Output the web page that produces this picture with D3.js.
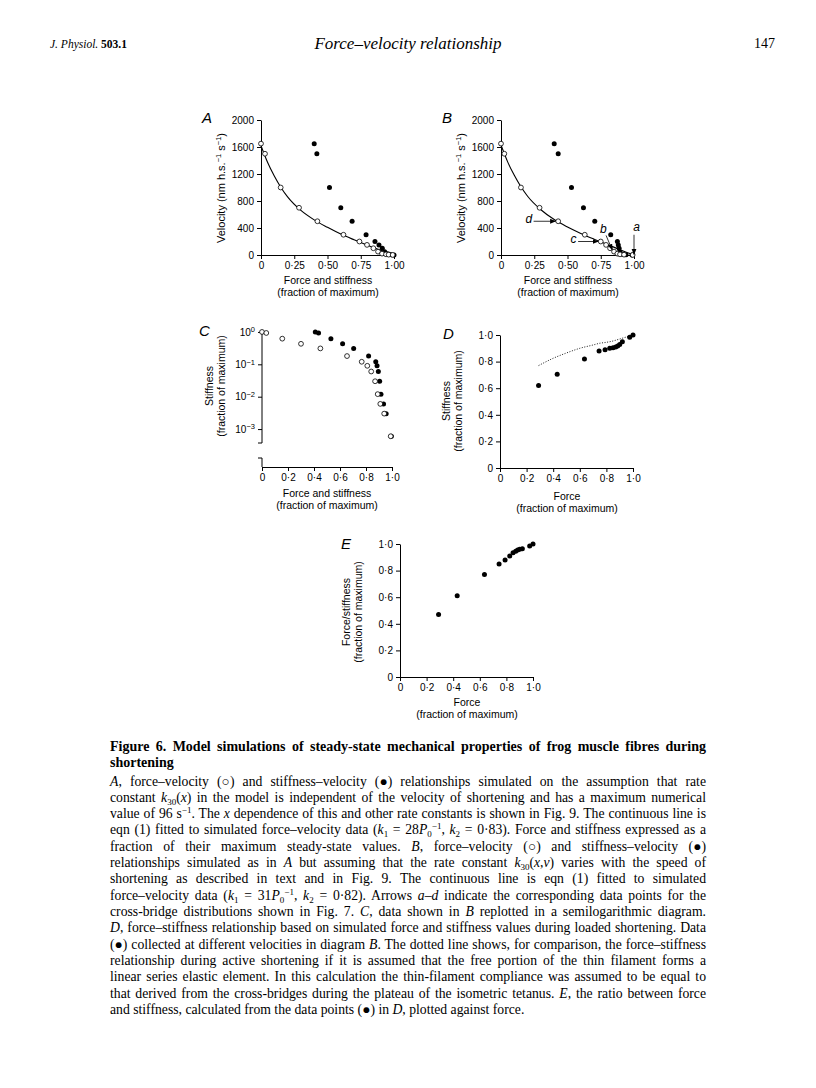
<!DOCTYPE html>
<html><head><meta charset="utf-8">
<script src="https://cdn.jsdelivr.net/npm/d3@7"></script>
<style>body{margin:0;background:#fff}svg{display:block}</style>
</head><body>
<svg id="fig" width="816" height="1088"></svg>
<script>
// ---------------- data ----------------
const velocityTicks = [0, 400, 800, 1200, 1600, 2000];
const quarterTicks = [0, 0.25, 0.5, 0.75, 1];
const fifthTicks = [0, 0.2, 0.4, 0.6, 0.8, 1];
const logTicks = [1, 0.1, 0.01, 0.001];

// Panel A
const A_velocity = [1650, 1500, 1000, 700, 500, 300, 200, 150, 100, 50, 20, 10, 5, 1];
const A_force = [0, 0.03, 0.148, 0.286, 0.424, 0.62, 0.74, 0.797, 0.845, 0.88, 0.91, 0.94, 0.96, 0.99];
const A_stiffness = [0.40, 0.42, 0.515, 0.60, 0.685, 0.79, 0.857, 0.887, 0.912, 0.93, 0.95, 0.965, 0.98, 1.0];
const A_fitForce = [0, 0.05, 0.1, 0.15, 0.2, 0.3, 0.4, 0.5, 0.6, 0.7, 0.8, 0.9, 1.0];
const A_fitVelocity = [1620, 1370, 1170, 1000, 860, 660, 520, 410, 310, 225, 145, 70, 0];

// Panel B
const B_velocity = [1650, 1500, 1000, 700, 500, 300, 200, 150, 100, 50, 20, 10, 5, 1];
const B_force = [0, 0.025, 0.15, 0.29, 0.43, 0.63, 0.75, 0.79, 0.82, 0.85, 0.875, 0.895, 0.925, 0.99];
const B_stiffness = [0.40, 0.43, 0.53, 0.62, 0.705, 0.825, 0.875, 0.882, 0.888, 0.893, 0.90, 0.915, 0.94, 0.985];
const B_fitForce = [0, 0.05, 0.1, 0.15, 0.2, 0.3, 0.4, 0.5, 0.6, 0.7, 0.8, 0.9, 1.0];
const B_fitVelocity = [1630, 1380, 1180, 1010, 870, 670, 525, 415, 320, 235, 155, 75, 0];
const B_arrowLabels = ["d", "c", "b", "a"];
const B_arrowFrom = [[0.245, 500], [0.58, 200], [0.79, 290], [1.0, 300]];
const B_arrowTo = [[0.41, 500], [0.73, 200], [0.835, 80], [1.0, 8]];
const B_labelAt = [[0.21, 480], [0.545, 185], [0.77, 330], [1.02, 350]];

// Panel C (semilogarithmic)
const C_force = [0, 0.033, 0.156, 0.30, 0.449, 0.654, 0.767, 0.81, 0.84, 0.87, 0.89, 0.91, 0.94, 0.99];
const C_stiffnessX = [0.41, 0.435, 0.53, 0.62, 0.705, 0.82, 0.875, 0.885, 0.895, 0.905, 0.915, 0.935, 0.955, 0.995];
const C_value = [1.0, 0.93, 0.62, 0.43, 0.31, 0.18, 0.12, 0.09, 0.06, 0.03, 0.012, 0.006, 0.003, 0.0006];

// Panel D
const D_force = [0.29, 0.43, 0.635, 0.745, 0.79, 0.825, 0.85, 0.87, 0.885, 0.90, 0.92, 0.975, 1.0];
const D_stiffness = [0.62, 0.705, 0.82, 0.88, 0.89, 0.90, 0.905, 0.91, 0.918, 0.928, 0.95, 0.983, 1.0];
const D_dottedForce = [0.29, 0.4, 0.5, 0.6, 0.7, 0.75, 0.8, 0.85, 0.9, 0.95, 1.0];
const D_dottedStiffness = [0.77, 0.825, 0.865, 0.9, 0.925, 0.938, 0.945, 0.955, 0.97, 0.985, 1.0];

// Panel E
const E_force = [0.29, 0.43, 0.635, 0.745, 0.79, 0.825, 0.85, 0.87, 0.885, 0.90, 0.92, 0.975, 1.0];
const E_ratio = [0.47, 0.61, 0.77, 0.85, 0.88, 0.91, 0.935, 0.945, 0.955, 0.96, 0.965, 0.985, 1.0];

// ---------------- drawing ----------------
const svg = d3.select("#fig");
const SANS = "'Liberation Sans', Arial, Helvetica, sans-serif";
const SERIF = "'Liberation Serif', 'Times New Roman', serif";
const TICK_FS = 10;
const TITLE_FS = 10.5;
const fmt2 = d => d === 0 ? "0" : d3.format(".2f")(d).replace(".", "·");
const fmt1 = d => d === 0 ? "0" : d3.format(".1f")(d).replace(".", "·");

function styleAxis(a) {
  a.attr("font-family", SANS).attr("font-size", TICK_FS);
  a.selectAll("text").attr("fill", "#000");
  a.selectAll("line,path").attr("stroke", "#000").attr("stroke-width", 1);
}
function xAxis(x, yPos, ticks, f) {
  const a = svg.append("g").attr("transform", `translate(0,${yPos})`)
    .call(d3.axisBottom(x).tickValues(ticks).tickFormat(f).tickSize(4).tickSizeOuter(0).tickPadding(3));
  styleAxis(a); return a;
}
function yAxis(y, xPos, ticks, f) {
  const a = svg.append("g").attr("transform", `translate(${xPos},0)`)
    .call(d3.axisLeft(y).tickValues(ticks).tickFormat(f).tickSize(4).tickSizeOuter(0).tickPadding(3));
  styleAxis(a); return a;
}
function txt(x, y, s, opts = {}) {
  const t = svg.append("text").attr("x", x).attr("y", y).text(s)
    .attr("font-family", opts.family || SANS).attr("font-size", opts.size || TITLE_FS)
    .attr("text-anchor", opts.anchor || "middle").attr("fill", "#000");
  if (opts.italic) t.attr("font-style", "italic");
  return t;
}
function yTitle(cx, cy, lines) {
  lines.forEach((l, i) => {
    svg.append("text").attr("transform", `translate(${cx + i * 11.5},${cy}) rotate(-90)`)
      .attr("text-anchor", "middle").attr("font-family", SANS).attr("font-size", TITLE_FS).text(l);
  });
}
function openDots(xs, ys, x, y, r = 2.4) {
  svg.append("g").selectAll("circle").data(xs).join("circle")
    .attr("cx", d => x(d)).attr("cy", (d, i) => y(ys[i])).attr("r", r)
    .attr("fill", "#fff").attr("stroke", "#000").attr("stroke-width", 0.8);
}
function filledDots(xs, ys, x, y, r = 2.5) {
  svg.append("g").selectAll("circle").data(xs).join("circle")
    .attr("cx", d => x(d)).attr("cy", (d, i) => y(ys[i])).attr("r", r).attr("fill", "#000");
}

svg.append("rect").attr("width", 816).attr("height", 1088).attr("fill", "#fff");

// header
txt(50, 48, "", {family: SERIF, size: 11.5, anchor: "start"}).call(t => {
  t.append("tspan").attr("font-style", "italic").text("J. Physiol. ");
  t.append("tspan").attr("font-weight", "bold").text("503.1");
});
txt(408, 49, "Force–velocity relationship", {family: SERIF, size: 17, italic: true});
txt(775, 48, "147", {family: SERIF, size: 14, anchor: "end"});

// ---- Panel A & B ----
function velocityPanel(x0, letter, force, stiff, vel, fitF, fitV) {
  const x = d3.scaleLinear().domain([0, 1]).range([x0, x0 + 133]);
  const y = d3.scaleLinear().domain([0, 2000]).range([255, 120]);
  xAxis(x, 255, quarterTicks, fmt2);
  yAxis(y, x0, velocityTicks, d3.format("d"));
  svg.append("path").datum(fitF.map((f, i) => [f, fitV[i]]))
    .attr("d", d3.line().x(d => x(d[0])).y(d => y(d[1])).curve(d3.curveMonotoneX))
    .attr("fill", "none").attr("stroke", "#000").attr("stroke-width", 1.1);
  filledDots(stiff, vel, x, y);
  openDots(force, vel, x, y);
  txt(x0 - 59, 123, letter, {size: 15, italic: true, anchor: "start"});
  txt(x0 + 67, 284, "Force and stiffness");
  txt(x0 + 67, 296, "(fraction of maximum)");
  const t = svg.append("text").attr("transform", `translate(${x0 - 36},188) rotate(-90)`)
    .attr("text-anchor", "middle").attr("font-family", SANS).attr("font-size", 11);
  t.append("tspan").text("Velocity (nm h.s.");
  t.append("tspan").attr("dy", -4).attr("font-size", 7.5).text("−1");
  t.append("tspan").attr("dy", 4).text(" s");
  t.append("tspan").attr("dy", -4).attr("font-size", 7.5).text("−1");
  t.append("tspan").attr("dy", 4).text(")");
  return {x, y};
}
velocityPanel(261, "A", A_force, A_stiffness, A_velocity, A_fitForce, A_fitVelocity);
const pb = velocityPanel(501, "B", B_force, B_stiffness, B_velocity, B_fitForce, B_fitVelocity);

// arrows in B
svg.append("defs").append("marker").attr("id", "ah").attr("viewBox", "0 0 10 10")
  .attr("refX", 9).attr("refY", 5).attr("markerWidth", 6).attr("markerHeight", 6)
  .attr("orient", "auto").attr("markerUnits", "userSpaceOnUse")
  .append("path").attr("d", "M0,1 L10,5 L0,9 Z").attr("fill", "#000");
B_arrowLabels.forEach((lab, i) => {
  svg.append("line")
    .attr("x1", pb.x(B_arrowFrom[i][0])).attr("y1", pb.y(B_arrowFrom[i][1]))
    .attr("x2", pb.x(B_arrowTo[i][0])).attr("y2", pb.y(B_arrowTo[i][1]))
    .attr("stroke", "#000").attr("stroke-width", 0.8).attr("marker-end", "url(#ah)");
  txt(pb.x(B_labelAt[i][0]), pb.y(B_labelAt[i][1]), lab, {size: 12, italic: true});
});

// ---- Panel C ----
{
  const x = d3.scaleLinear().domain([0, 1]).range([262, 392]);
  const y = d3.scaleLog().domain([Math.pow(10, -3.43), Math.pow(10, 0.06)]).range([443, 330]);
  xAxis(x, 467, fifthTicks, fmt1);
  const ya = yAxis(y, 262, logTicks, () => "");
  ya.select("path.domain").remove();
  ya.selectAll(".tick").each(function (d) {
    const t = d3.select(this).append("text").attr("x", -7).attr("dy", "0.32em")
      .attr("text-anchor", "end").attr("fill", "#000").attr("font-family", SANS).attr("font-size", TICK_FS);
    t.append("tspan").text("10");
    t.append("tspan").attr("dy", "-0.45em").attr("font-size", 7.5).text(d === 1 ? "0" : "−" + Math.round(-Math.log10(d)));
  });
  const ax = svg.append("g").attr("stroke", "#000").attr("stroke-width", 1);
  ax.append("line").attr("x1", 262).attr("x2", 262).attr("y1", 330).attr("y2", 443);
  ax.append("line").attr("x1", 258).attr("x2", 262).attr("y1", 443).attr("y2", 443);
  ax.append("line").attr("x1", 262).attr("x2", 262).attr("y1", 458).attr("y2", 467);
  ax.append("line").attr("x1", 258).attr("x2", 262).attr("y1", 458).attr("y2", 458);
  filledDots(C_stiffnessX, C_value, x, y);
  openDots(C_force, C_value, x, y);
  txt(199, 336, "C", {size: 15, italic: true, anchor: "start"});
  txt(327, 497, "Force and stiffness");
  txt(327, 509, "(fraction of maximum)");
  yTitle(213, 386, ["Stiffness", "(fraction of maximum)"]);
}

// ---- Panel D ----
{
  const x = d3.scaleLinear().domain([0, 1]).range([500, 633]);
  const y = d3.scaleLinear().domain([0, 1]).range([468, 335]);
  xAxis(x, 468, fifthTicks, fmt1);
  yAxis(y, 500, fifthTicks, fmt1);
  svg.append("path").datum(D_dottedForce.map((f, i) => [f, D_dottedStiffness[i]]))
    .attr("d", d3.line().x(d => x(d[0])).y(d => y(d[1])).curve(d3.curveMonotoneX))
    .attr("fill", "none").attr("stroke", "#000").attr("stroke-width", 0.9).attr("stroke-dasharray", "1,1.6");
  filledDots(D_force, D_stiffness, x, y);
  txt(443, 339, "D", {size: 15, italic: true, anchor: "start"});
  txt(567, 500, "Force");
  txt(567, 512, "(fraction of maximum)");
  yTitle(450, 401, ["Stiffness", "(fraction of maximum)"]);
}

// ---- Panel E ----
{
  const x = d3.scaleLinear().domain([0, 1]).range([400, 533]);
  const y = d3.scaleLinear().domain([0, 1]).range([677, 544]);
  xAxis(x, 677, fifthTicks, fmt1);
  yAxis(y, 400, fifthTicks, fmt1);
  filledDots(E_force, E_ratio, x, y);
  txt(341, 549, "E", {size: 15, italic: true, anchor: "start"});
  txt(467, 706, "Force");
  txt(467, 718, "(fraction of maximum)");
  yTitle(350, 612, ["Force/stiffness", "(fraction of maximum)"]);
}

// ---------------- caption ----------------
const I = s => ({t: s, i: 1}), SB = s => ({t: s, sub: 1}), SP = s => ({t: s, sup: 1});
const captionLines = [
  {b: 1, j: 1, segs: ["Figure 6. Model simulations of steady-state mechanical properties of frog muscle fibres during"]},
  {b: 1, segs: ["shortening"]},
  {j: 1, segs: [I("A"), ", force–velocity (○) and stiffness–velocity (●) relationships simulated on the assumption that rate"]},
  {j: 1, segs: ["constant ", I("k"), SB("30"), "(", I("x"), ") in the model is independent of the velocity of shortening and has a maximum numerical"]},
  {j: 1, segs: ["value of 96 s", SP("−1"), ". The ", I("x"), " dependence of this and other rate constants is shown in Fig. 9. The continuous line is"]},
  {j: 1, segs: ["eqn (1) fitted to simulated force–velocity data (", I("k"), SB("1"), " = 28", I("P"), SB("0"), SP("−1"), ", ", I("k"), SB("2"), " = 0·83). Force and stiffness expressed as a"]},
  {j: 1, segs: ["fraction of their maximum steady-state values. ", I("B"), ", force–velocity (○) and stiffness–velocity (●)"]},
  {j: 1, segs: ["relationships simulated as in ", I("A"), " but assuming that the rate constant ", I("k"), SB("30"), "(", I("x"), ",", I("v"), ") varies with the speed of"]},
  {j: 1, segs: ["shortening as described in text and in Fig. 9. The continuous line is eqn (1) fitted to simulated"]},
  {j: 1, segs: ["force–velocity data (", I("k"), SB("1"), " = 31", I("P"), SB("0"), SP("−1"), ", ", I("k"), SB("2"), " = 0·82). Arrows ", I("a–d"), " indicate the corresponding data points for the"]},
  {j: 1, segs: ["cross-bridge distributions shown in Fig. 7. ", I("C"), ", data shown in ", I("B"), " replotted in a semilogarithmic diagram."]},
  {j: 1, segs: [I("D"), ", force–stiffness relationship based on simulated force and stiffness values during loaded shortening. Data"]},
  {j: 1, segs: ["(●) collected at different velocities in diagram ", I("B"), ". The dotted line shows, for comparison, the force–stiffness"]},
  {j: 1, segs: ["relationship during active shortening if it is assumed that the free portion of the thin filament forms a"]},
  {j: 1, segs: ["linear series elastic element. In this calculation the thin-filament compliance was assumed to be equal to"]},
  {j: 1, segs: ["that derived from the cross-bridges during the plateau of the isometric tetanus. ", I("E"), ", the ratio between force"]},
  {segs: ["and stiffness, calculated from the data points (●) in ", I("D"), ", plotted against force."]}
];
const capY = [751, 767, 786, 802, 818, 834, 851, 867, 883, 900, 916, 932, 949, 965, 981, 998, 1014];
const CAP_X = 110, CAP_W = 596;
captionLines.forEach((ln, k) => {
  const t = svg.append("text").attr("x", CAP_X).attr("y", capY[k])
    .attr("font-family", SERIF).attr("font-size", ln.b ? 14 : 13.7).attr("fill", "#000");
  if (ln.b) t.attr("font-weight", "bold");
  let shift = 0, full = "";
  ln.segs.forEach(s => {
    const seg = typeof s === "string" ? {t: s} : s;
    full += seg.t;
    const sp = t.append("tspan").text(seg.t);
    const target = seg.sub ? 3 : seg.sup ? -5 : 0;
    if (target !== shift) { sp.attr("dy", target - shift); shift = target; }
    if (seg.sub || seg.sup) sp.attr("font-size", 9);
    if (seg.i) sp.attr("font-style", "italic");
  });
  if (ln.j) {
    const natural = t.node().getComputedTextLength();
    const spaces = (full.match(/ /g) || []).length;
    if (spaces > 0) {
      const ws = (CAP_W - natural) / spaces;
      if (ws > -2.5) t.attr("word-spacing", ws);
      else t.attr("textLength", CAP_W).attr("lengthAdjust", "spacingAndGlyphs");
    }
  }
});
</script>
</body></html>
